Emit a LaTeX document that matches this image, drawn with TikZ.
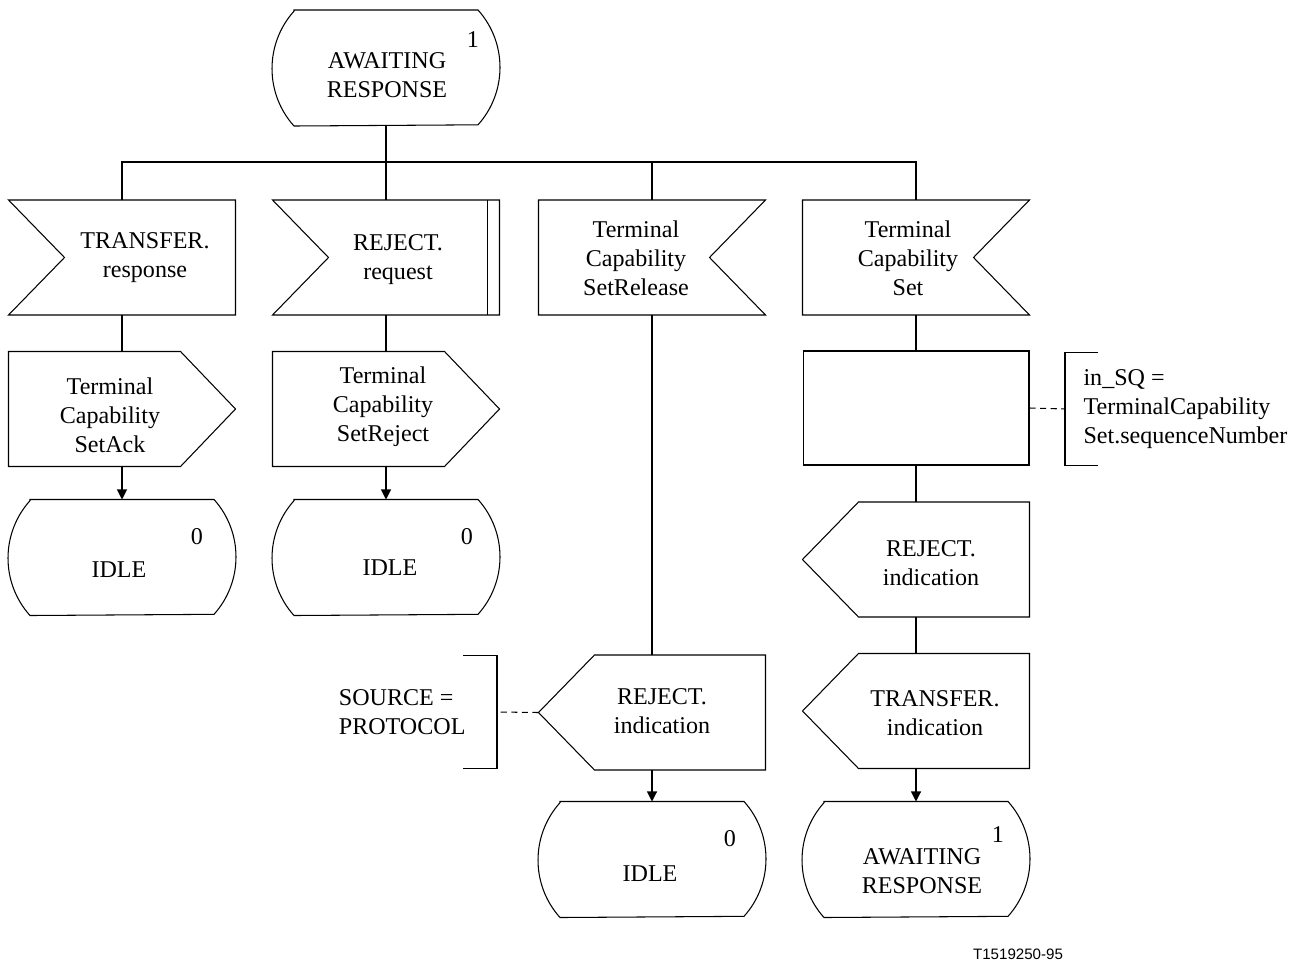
\documentclass[tikz,border=0pt]{standalone}
\usepackage{fontspec}
\setmainfont{Liberation Serif}
\newfontfamily\figfont{Liberation Sans}
\usetikzlibrary{arrows.meta}

\tikzset{
  sdl/.style={minimum width=4.52cm, minimum height=2.28cm, inner sep=0pt},
  sdlstate/.style={minimum width=4.54cm, minimum height=2.3cm, inner sep=0pt},
  txt/.style={align=center, inner sep=0pt, font=\fontsize{13.7}{16.5}\selectfont},
  cmt/.style={align=left, inner ysep=0pt, minimum height=2.24cm, font=\fontsize{13.7}{16.5}\selectfont},
  flow/.style={-{Triangle[length=0.2cm,width=0.2cm]}},
  attach/.style={dash pattern=on 3.5pt off 2.5pt},
}

\begin{document}
\begin{tikzpicture}[x=0.02cm, y=-0.02cm, line width=0.6pt]
    \useasboundingbox (0,0) rectangle (1297,962);

    \node[sdlstate] (st0) at (386,68) {};
    \node[txt] (st0-t) at (387,75) {AWAITING\\RESPONSE};
    \node[txt] (st0-n) at (473,40) {1};

    \coordinate (bus) at (386,162);

    \node[sdl] (inA) at (122,257.5) {};
    \node[txt] (inA-t) at (145,258) {TRANSFER.\\response};
    \node[sdl] (inB) at (386,257.5) {};
    \node[txt] (inB-t) at (398,260) {REJECT.\\request};
    \node[sdl] (inC) at (652,257.5) {};
    \node[txt] (inC-t) at (636,258) {Terminal\\Capability\\SetRelease};
    \node[sdl] (inD) at (916,257.5) {};
    \node[txt] (inD-t) at (908,258) {Terminal\\Capability\\Set};

    \node[sdl] (outA) at (122,409) {};
    \node[txt] (outA-t) at (110,415) {Terminal\\Capability\\SetAck};
    \node[sdl] (outB) at (386,409) {};
    \node[txt] (outB-t) at (383,407) {Terminal\\Capability\\SetReject};

    \node[sdlstate] (idleA) at (122,557.5) {};
    \node[txt] (idleA-t) at (119,570) {IDLE};
    \node[txt] (idleA-n) at (197,537) {0};
    \node[sdlstate] (idleB) at (386,557.5) {};
    \node[txt] (idleB-t) at (390,568) {IDLE};
    \node[txt] (idleB-n) at (467,537) {0};

    \node[sdl, draw] (task) at (916,408) {};
    \node[cmt, anchor=west, inner xsep=0.36cm] (cmR) at (1065,409)
        {in\_SQ =\\TerminalCapability\\Set.sequenceNumber};

    \node[sdl] (rejD) at (916,559.5) {};
    \node[txt] (rejD-t) at (931,563) {REJECT.\\indication};
    \node[sdl] (trD) at (916,711) {};
    \node[txt] (trD-t) at (935,713) {TRANSFER.\\indication};
    \node[sdlstate] (stD) at (916,859.5) {};
    \node[txt] (stD-t) at (922,871) {AWAITING\\RESPONSE};
    \node[txt] (stD-n) at (998,835) {1};

    \node[sdl] (rejC) at (652,712.5) {};
    \node[txt] (rejC-t) at (662,711) {REJECT.\\indication};
    \node[cmt, anchor=east, inner xsep=0.62cm] (cmL) at (497,712)
        {SOURCE =\\PROTOCOL};
    \node[sdlstate] (idleC) at (652,859.5) {};
    \node[txt] (idleC-t) at (650,874) {IDLE};
    \node[txt] (idleC-n) at (730,839) {0};

    \node[font=\figfont\fontsize{8.6}{10}\selectfont] (code) at (1018,954) {T1519250-95};

    % outlines
    \foreach \n in {st0,idleA,idleB,idleC,stD}
        \draw ([xshift=0.44cm]\n.north west) -- ([xshift=-0.44cm]\n.north east)
            arc[start angle=41.9, end angle=-41.9, radius=1.72cm]
            -- ([xshift=0.44cm]\n.south west)
            arc[start angle=221.9, end angle=138.1, radius=1.72cm] -- cycle;
    \foreach \n in {inA,inB}
        \draw (\n.north west) -- (\n.north east) -- (\n.south east) -- (\n.south west)
            -- ([xshift=1.12cm]\n.west) -- cycle;
    \draw ([xshift=-0.24cm]inB.north east) -- ([xshift=-0.24cm]inB.south east);
    \foreach \n in {inC,inD}
        \draw (\n.north west) -- (\n.north east) -- ([xshift=-1.12cm]\n.east)
            -- (\n.south east) -- (\n.south west) -- cycle;
    \foreach \n in {outA,outB}
        \draw (\n.north west) -- ([xshift=-1.1cm]\n.north east) -- (\n.east)
            -- ([xshift=-1.1cm]\n.south east) -- (\n.south west) -- cycle;
    \foreach \n in {rejC,rejD,trD}
        \draw ([xshift=1.12cm]\n.north west) -- (\n.north east) -- (\n.south east)
            -- ([xshift=1.12cm]\n.south west) -- (\n.west) -- cycle;
    \draw ([xshift=0.66cm]cmR.north west) -- (cmR.north west) -- (cmR.south west)
        -- ([xshift=0.66cm]cmR.south west);
    \draw ([xshift=-0.68cm]cmL.north east) -- (cmL.north east) -- (cmL.south east)
        -- ([xshift=-0.68cm]cmL.south east);

    % connectors
    \draw (st0) -- (bus);
    \draw (inA.north) |- (bus) -| (inD.north);
    \draw (inB.north) -- (inB.north |- bus);
    \draw (inC.north) -- (inC.north |- bus);
    \draw (inA) -- (outA);
    \draw[flow] (outA) -- (idleA);
    \draw (inB) -- (outB);
    \draw[flow] (outB) -- (idleB);
    \draw (inC) -- (rejC);
    \draw[flow] (rejC) -- (idleC);
    \draw[attach] (rejC.west) -- (cmL.east);
    \draw (inD) -- (task);
    \draw[attach] (task.east) -- (cmR.west);
    \draw (task) -- (rejD);
    \draw (rejD) -- (trD);
    \draw[flow] (trD) -- (stD);
\end{tikzpicture}
\end{document}
